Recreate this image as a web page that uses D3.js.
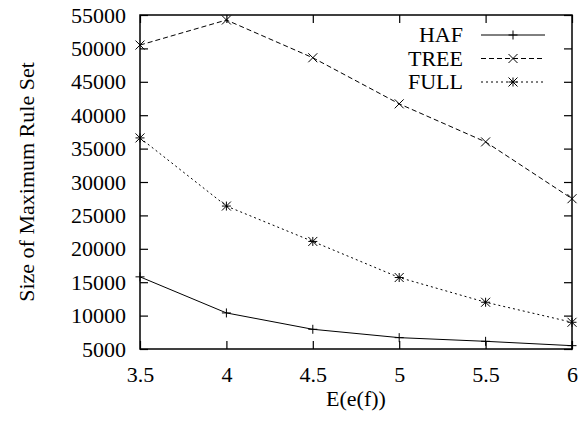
<!DOCTYPE html>
<html>
<head>
<meta charset="utf-8">
<script src="https://cdn.jsdelivr.net/npm/d3@7"></script>
<style>
  body { margin: 0; background: #fff; }
  svg text { font-family: "Liberation Serif", "Times New Roman", serif; font-size: 22px; fill: #000; }
</style>
</head>
<body>
<div id="chart"></div>
<script>
const margin = {top: 15, right: 8, bottom: 72, left: 140},
    width = 580 - margin.left - margin.right,
    height = 421 - margin.top - margin.bottom;

// data
const xVals = [3.5, 4, 4.5, 5, 5.5, 6];
const haf  = [15800, 10400, 7950, 6700, 6150, 5500];
const tree = [50500, 54250, 48600, 41700, 36000, 27500];
const full = [36600, 26400, 21100, 15700, 12000, 9000];
const xTicks = [3.5, 4, 4.5, 5, 5.5, 6];
const yTicks = [5000, 10000, 15000, 20000, 25000, 30000, 35000, 40000, 45000, 50000, 55000];

const series = [
  {name: "HAF",  values: haf,  dash: null,  marker: "plus"},
  {name: "TREE", values: tree, dash: "5,3", marker: "cross"},
  {name: "FULL", values: full, dash: "2,3", marker: "star"}
];

const svg = d3.select("#chart").append("svg")
    .attr("width", 580)
    .attr("height", 421);

const g = svg.append("g")
    .attr("transform", `translate(${margin.left}, ${margin.top})`);

const x = d3.scaleLinear().domain([3.5, 6]).range([0, width]);
const y = d3.scaleLinear().domain([5000, 55000]).range([height, 0]);

//--------------------------- AXES (inward mirrored ticks)
const tk = 8;
g.append("g")
  .attr("transform", `translate(0, ${height})`)
  .call(d3.axisBottom(x).tickValues(xTicks).tickSize(-tk).tickPadding(tk + 9).tickFormat(d3.format("")))
  .call(a => a.select(".domain").remove());
g.append("g")
  .call(d3.axisTop(x).tickValues(xTicks).tickSize(-tk).tickFormat(""))
  .call(a => a.select(".domain").remove());
g.append("g")
  .call(d3.axisLeft(y).tickValues(yTicks).tickSize(-tk).tickPadding(tk + 6).tickFormat(d3.format("d")))
  .call(a => a.select(".domain").remove());
g.append("g")
  .attr("transform", `translate(${width}, 0)`)
  .call(d3.axisRight(y).tickValues(yTicks).tickSize(-tk).tickFormat(""))
  .call(a => a.select(".domain").remove());

g.selectAll("g").attr("font-family", null).attr("font-size", null);
g.selectAll(".tick line").attr("stroke", "#000").attr("stroke-width", 1.2);

g.append("rect")
  .attr("width", width).attr("height", height)
  .attr("fill", "none").attr("stroke", "#000").attr("stroke-width", 1.5);

//--------------------------- MARKERS
function drawMarker(sel, type, cx, cy) {
  const s = 4.5;
  let p;
  if (type === "plus") p = `M${cx - s},${cy}H${cx + s}M${cx},${cy - s}V${cy + s}`;
  else if (type === "cross") p = `M${cx - s},${cy - s}L${cx + s},${cy + s}M${cx - s},${cy + s}L${cx + s},${cy - s}`;
  else p = `M${cx - s},${cy}H${cx + s}M${cx},${cy - s}V${cy + s}M${cx - s},${cy - s}L${cx + s},${cy + s}M${cx - s},${cy + s}L${cx + s},${cy - s}`;
  sel.append("path").attr("d", p).attr("stroke", "#000").attr("stroke-width", 1).attr("fill", "none");
}

const line = d3.line().x(d => x(d[0])).y(d => y(d[1]));

series.forEach(s => {
  const pts = xVals.map((v, i) => [v, s.values[i]]);
  g.append("path")
    .datum(pts)
    .attr("d", line)
    .attr("fill", "none")
    .attr("stroke", "#000")
    .attr("stroke-width", 1)
    .attr("stroke-dasharray", s.dash);
  pts.forEach(p => drawMarker(g, s.marker, x(p[0]), y(p[1])));
});

//--------------------------- LEGEND
const legend = g.append("g");
series.forEach((s, i) => {
  const ly = 20 + i * 23.5;
  legend.append("text")
    .attr("x", 323).attr("y", ly).attr("dy", "0.33em")
    .attr("text-anchor", "end")
    .text(s.name);
  legend.append("line")
    .attr("x1", 341).attr("x2", 405).attr("y1", ly).attr("y2", ly)
    .attr("stroke", "#000").attr("stroke-width", 1)
    .attr("stroke-dasharray", s.dash);
  drawMarker(legend, s.marker, 373, ly);
});

//--------------------------- LABELS
svg.append("text")
  .attr("x", margin.left + width / 2).attr("y", 406)
  .attr("text-anchor", "middle")
  .text("E(e(f))");
svg.append("text")
  .attr("transform", `translate(34, ${margin.top + height / 2}) rotate(-90)`)
  .attr("text-anchor", "middle")
  .text("Size of Maximum Rule Set");
</script>
</body>
</html>
